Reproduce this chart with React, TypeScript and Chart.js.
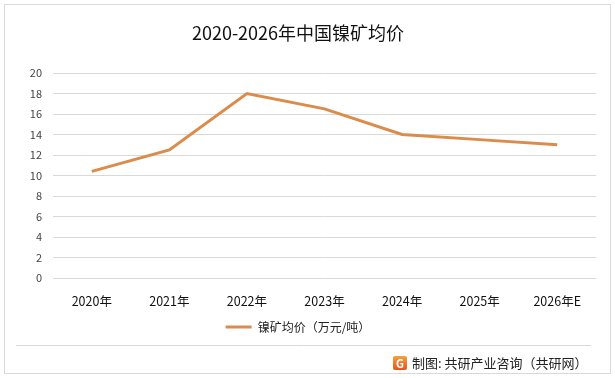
import React, { useEffect, useRef } from "react";
import { Chart, registerables } from "chart.js";

Chart.register(...registerables);

const categories = ["2020年", "2021年", "2022年", "2023年", "2024年", "2025年", "2026年E"];
const prices = [10.4, 12.5, 18.0, 16.5, 14.0, 13.5, 13.0];
const yMin = 0;
const yMax = 20;
const yStep = 2;
const seriesLabel = "镍矿均价（万元/吨）";
const titleText = "2020-2026年中国镍矿均价";
const footerText = "制图: 共研产业咨询（共研网）";

const FONT = "'Noto Sans CJK SC', 'Noto Sans', sans-serif";
const LINE_COLOR = "#DB8B4A";
const GRID = "#d9d9d9";

const framePlugin = {
  id: "frame",
  beforeDraw(chart: any) {
    const { ctx, width, height } = chart;
    ctx.save();
    ctx.fillStyle = "#ffffff";
    ctx.fillRect(0, 0, width, height);
    ctx.strokeStyle = GRID;
    ctx.lineWidth = 1;
    ctx.strokeRect(4.5, 4.5, 606, 369);
    ctx.restore();
  },
  afterDraw(chart: any) {
    const { ctx } = chart;
    ctx.save();
    ctx.strokeStyle = GRID;
    ctx.lineWidth = 1;
    ctx.beginPath();
    ctx.moveTo(16, 345.5);
    ctx.lineTo(591, 345.5);
    ctx.stroke();
    // icon
    const ix = 393, iy = 356, s = 14;
    const g = ctx.createLinearGradient(ix, iy, ix, iy + s);
    g.addColorStop(0, "#F7A13A");
    g.addColorStop(1, "#E8521F");
    ctx.fillStyle = g;
    ctx.beginPath();
    ctx.roundRect(ix, iy, s, s, 2);
    ctx.fill();
    ctx.fillStyle = "#ffffff";
    ctx.font = `bold 11px ${FONT}`;
    ctx.textAlign = "center";
    ctx.textBaseline = "middle";
    ctx.fillText("G", ix + s / 2, iy + s / 2 + 0.5);
    ctx.fillStyle = "#222222";
    ctx.font = `13px ${FONT}`;
    ctx.textAlign = "left";
    ctx.fillText(footerText, 412, 363);
    ctx.restore();
  },
};

export default function App() {
  const ref = useRef<HTMLCanvasElement | null>(null);
  useEffect(() => {
    document.body.style.margin = "0";
    const canvas = ref.current!;
    const chart = new Chart(canvas, {
      type: "line",
      data: {
        labels: categories,
        datasets: [
          {
            label: seriesLabel,
            data: prices,
            borderColor: LINE_COLOR,
            backgroundColor: LINE_COLOR,
            borderWidth: 3,
            pointRadius: 0,
            pointHoverRadius: 0,
            tension: 0,
            pointStyle: "line",
          },
        ],
      },
      options: {
        responsive: false,
        animation: false,
        layout: { padding: { left: 0, right: 19, top: 0, bottom: 35 } },
        plugins: {
          title: {
            display: true,
            text: titleText,
            color: "#111111",
            font: { family: FONT, size: 18, weight: "normal" },
            padding: { top: 22, bottom: 29.4 },
          },
          legend: {
            display: true,
            position: "bottom",
            labels: {
              usePointStyle: true,
              pointStyle: "line",
              pointStyleWidth: 26,
              color: "#222222",
              font: { family: FONT, size: 12 },
              padding: 13,
            },
          },
          tooltip: { enabled: false },
        },
        scales: {
          x: {
            offset: true,
            grid: { display: false, drawTicks: false },
            border: { display: false },
            ticks: {
              color: "#111111",
              font: { family: FONT, size: 12.5 },
              padding: 15.5,
              maxRotation: 0,
              autoSkip: false,
            },
            afterFit(scale: any) {
              scale.height = 30;
            },
          },
          y: {
            min: yMin,
            max: yMax,
            grid: { color: GRID, lineWidth: 1, drawTicks: false },
            border: { display: false },
            ticks: {
              stepSize: yStep,
              color: "#444444",
              font: { family: FONT, size: 11 },
              padding: 11,
            },
            afterFit(scale: any) {
              scale.width = 53;
            },
          },
        },
      },
      plugins: [framePlugin],
    });
    return () => chart.destroy();
  }, []);
  return (
    <div style={{ position: "absolute", left: 0, top: 0, width: 615, height: 378 }}>
      <canvas ref={ref} width={615} height={378} style={{ width: 615, height: 378 }} />
    </div>
  );
}
